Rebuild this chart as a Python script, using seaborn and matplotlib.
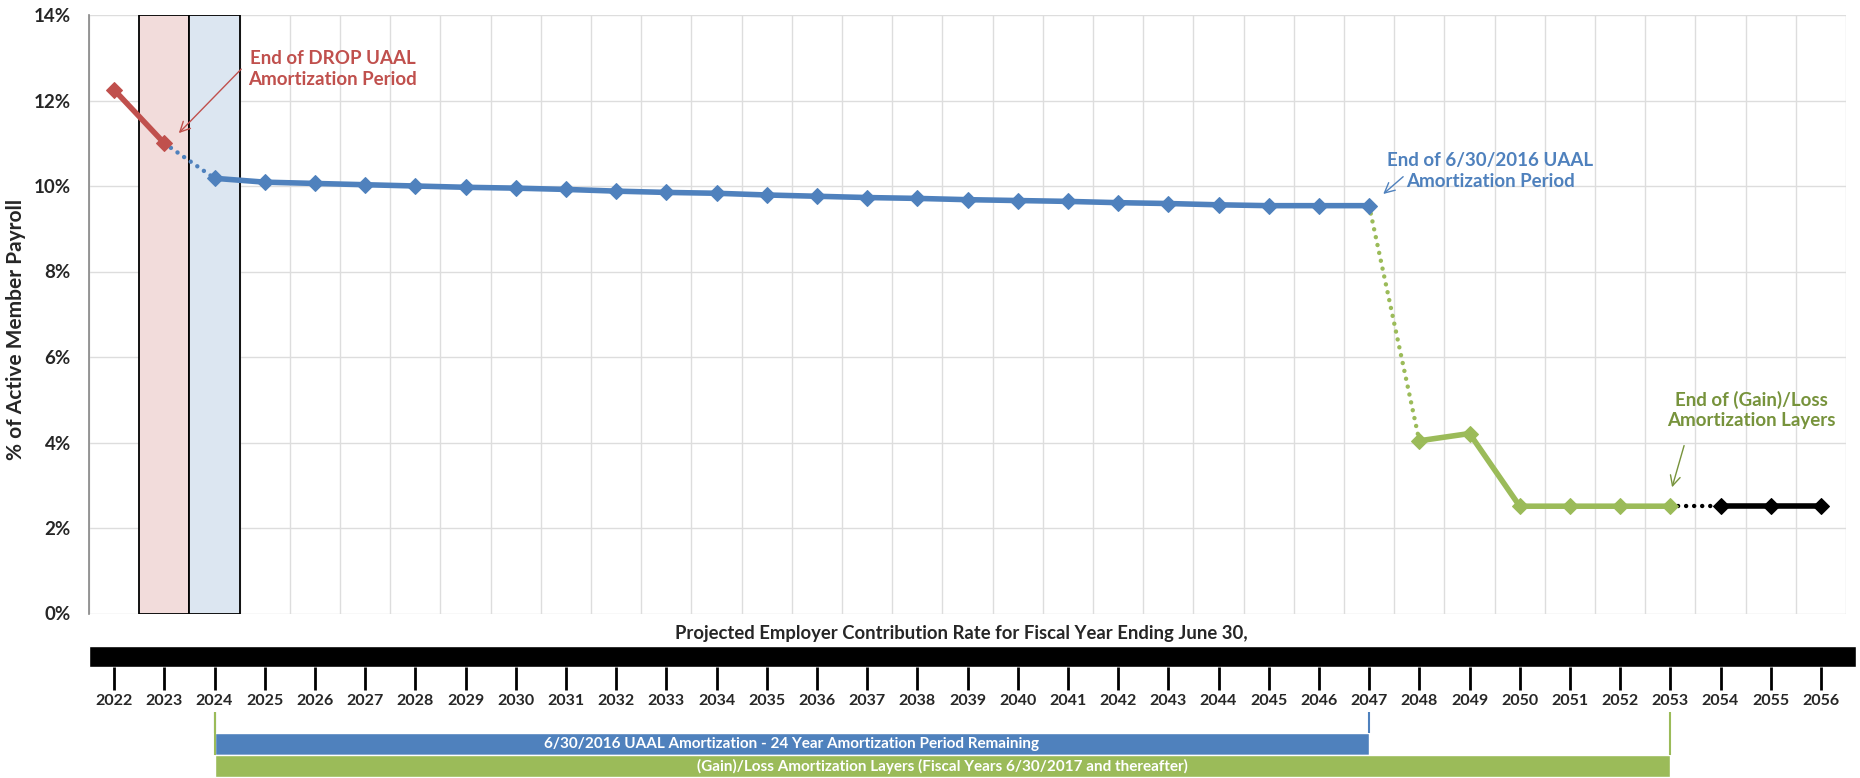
import pandas as pd
import seaborn as sns
import matplotlib.pyplot as plt
from matplotlib.ticker import FuncFormatter

# data
years = list(range(2022, 2057))
rates = [12.25, 11.00, 10.18, 10.09, 10.06, 10.03, 10.00, 9.97, 9.95, 9.92,
         9.88, 9.85, 9.83, 9.79, 9.76, 9.73, 9.71, 9.68, 9.66, 9.64,
         9.61, 9.59, 9.56, 9.54, 9.54, 9.54, 4.04, 4.21, 2.51, 2.51,
         2.51, 2.51, 2.51, 2.51, 2.51]

# (first year, last year, colour, dotted?)
segments = [
    (2022, 2023, '#C0504D', False),
    (2023, 2024, '#4F81BD', True),
    (2024, 2047, '#4F81BD', False),
    (2047, 2048, '#9BBB59', True),
    (2048, 2053, '#9BBB59', False),
    (2053, 2054, '#000000', True),
    (2054, 2056, '#000000', False),
]

box_years = [2023, 2024]
box_colors = ['#F2DCDB', '#DCE6F1']

period_starts = [2024, 2024]
period_ends = [2047, 2053]
period_colors = ['#4F81BD', '#9BBB59']
period_labels = ['6/30/2016 UAAL Amortization - 24 Year Amortization Period Remaining',
                 '(Gain)/Loss Amortization Layers (Fiscal Years 6/30/2017 and thereafter)']

notes = [
    ('End of DROP UAAL\nAmortization Period', '#C0504D'),
    ('End of 6/30/2016 UAAL\nAmortization Period', '#4F81BD'),
    ('End of (Gain)/Loss\nAmortization Layers', '#77933C'),
]

sns.set_style('white')
plt.rcParams['font.family'] = ['Lato', 'DejaVu Sans']

df = pd.DataFrame({'year': years, 'rate': rates})
df['idx'] = range(len(df))


def ix(y):
    return years.index(y)


W, H = 1860, 778
fig = plt.figure(figsize=(W / 100, H / 100), dpi=100)
left_px, right_px, top_px, bot_px = 89, 1846, 15, 613.5
ax = fig.add_axes([left_px / W, 1 - bot_px / H, (right_px - left_px) / W, (bot_px - top_px) / H])
ax.set_xlim(-0.5, len(years) - 0.5)
ax.set_ylim(0, 14)

# shaded boxes
ax.bar([ix(y) for y in box_years], [14, 14], width=1, color=box_colors,
       edgecolor='black', linewidth=1.3, zorder=1)

# grid
ax.set_yticks(range(0, 15, 2))
ax.set_xticks([i - 0.5 for i in range(len(years) + 1)])
ax.grid(True, color='#DDDDDD', linewidth=1, zorder=0)
ax.set_axisbelow(True)
ax.tick_params(axis='x', length=0, labelbottom=False)
ax.tick_params(axis='y', length=5, width=1, color='#868686', pad=8, labelsize=13.5)
ax.yaxis.set_major_formatter(FuncFormatter(lambda v, p: f'{v:.0f}%'))
for s in ['top', 'right', 'bottom']:
    ax.spines[s].set_visible(False)
ax.spines['left'].set_color('#868686')
ax.spines['left'].set_linewidth(1.2)

# lines
for a, b, col, dotted in segments:
    sub = df[(df.year >= a) & (df.year <= b)]
    if dotted:
        sns.lineplot(data=sub, x='idx', y='rate', ax=ax, color=col, lw=3.2,
                     linestyle=(0, (0.01, 1.8)), dash_capstyle='round', zorder=3)
    else:
        sns.lineplot(data=sub, x='idx', y='rate', ax=ax, color=col, lw=4,
                     marker='D', markersize=8.5, markeredgecolor=col, zorder=4)
ax.set_xlabel('')
ax.set_ylabel('% of Active Member Payroll', fontsize=15, fontweight='bold')
ax.yaxis.set_label_coords(-0.036, 0.475)
for lab in ax.get_yticklabels():
    lab.set_fontweight('bold')

# annotations (text centre, arrow tail, arrow head) in data units
note_pos = [((4.36, 12.74), (2.57, 12.78), (1.25, 11.19)),
            ((27.41, 10.35), (25.72, 10.26), (25.24, 9.77)),
            ((32.61, 4.76), (31.29, 3.99), (31.02, 2.89))]
for (txt, col), (tp, tail, head) in zip(notes, note_pos):
    ax.text(tp[0], tp[1], txt, color=col, fontsize=13.5, fontweight='bold',
            ha='center', va='center', linespacing=1.25)
    ax.annotate('', xy=head, xytext=tail,
                arrowprops=dict(arrowstyle='->', color=col, lw=1, mutation_scale=18))

# bottom timeline axis
axb = fig.add_axes([left_px / W, 0, (right_px - left_px) / W, (H - bot_px) / H])
axb.set_xlim(-0.5, len(years) - 0.5)
axb.set_ylim(H, bot_px)
axb.axis('off')
axb.barh(656.5, 35.2, left=-0.5, height=21, color='black', clip_on=False)
axb.vlines(range(len(years)), 667, 690, color='black', lw=2)
for i, y in enumerate(years):
    axb.text(i, 701, str(y), ha='center', va='center', fontsize=11.5, fontweight='bold')
fig.text(961 / W, 1 - 634 / H, 'Projected Employer Contribution Rate for Fiscal Year Ending June 30,',
         ha='center', va='center', fontsize=13.3, fontweight='bold')

bar_y = [744, 766]
for s, e, col, lab, by in zip(period_starts, period_ends, period_colors, period_labels, bar_y):
    axb.barh(by, ix(e) - ix(s), left=ix(s), height=22, color=col)
    axb.vlines([ix(s), ix(e)], 712, by - 11, color=col, lw=1.5)
    axb.text((ix(s) + ix(e)) / 2, by, lab, color='white', ha='center', va='center',
             fontsize=11, fontweight='bold')

fig.savefig('out.png', dpi=100)
